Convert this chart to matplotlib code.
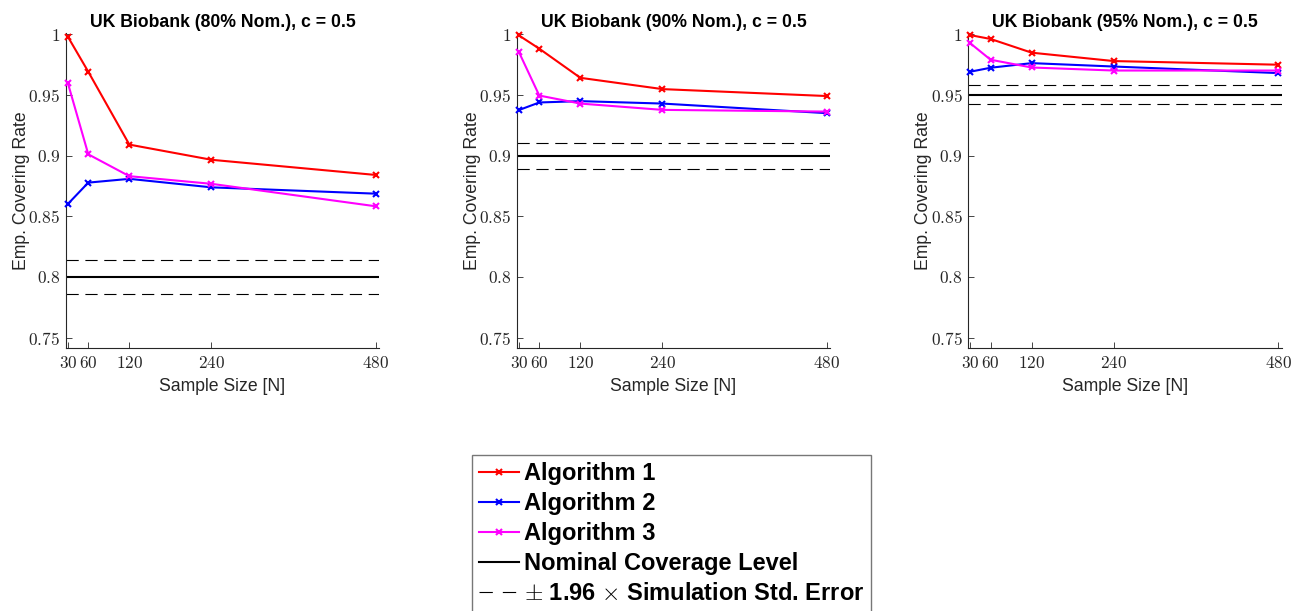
import matplotlib
matplotlib.use("Agg")
import matplotlib.pyplot as plt
from matplotlib.lines import Line2D

plt.rcParams['font.family'] = ['Liberation Sans', 'DejaVu Sans']
plt.rcParams['mathtext.fontset'] = 'cm'

sample_sizes = [30, 60, 120, 240, 480]
titles = ["UK Biobank (80% Nom.), c = 0.5",
          "UK Biobank (90% Nom.), c = 0.5",
          "UK Biobank (95% Nom.), c = 0.5"]
nominal = [0.80, 0.90, 0.95]
band = [0.0143, 0.0107, 0.0078]

alg1 = [[0.998, 0.969, 0.909, 0.8965, 0.884],
        [0.999, 0.988, 0.964, 0.9547, 0.949],
        [0.9992, 0.996, 0.9847, 0.9778, 0.9748]]
alg2 = [[0.860, 0.8777, 0.8808, 0.8738, 0.8686],
        [0.9374, 0.9437, 0.9448, 0.9428, 0.9349],
        [0.969, 0.9723, 0.9761, 0.9733, 0.9679]]
alg3 = [[0.960, 0.901, 0.883, 0.8767, 0.8582],
        [0.9855, 0.9494, 0.9428, 0.9376, 0.9362],
        [0.9926, 0.9789, 0.9725, 0.970, 0.970]]

series_labels = ["Algorithm 1", "Algorithm 2", "Algorithm 3"]
series_colors = ["#ff0000", "#0000ff", "#ff00ff"]
yticks = [0.75, 0.8, 0.85, 0.9, 0.95, 1.0]

W, H = 1301, 611
fig = plt.figure(figsize=(W / 100, H / 100), dpi=100)

lefts = [65.7, 516.7, 968.0]
ax_w = 313.5
top_px, bot_px = 33.5, 348.0

for i in range(3):
    ax = fig.add_axes([lefts[i] / W, (H - bot_px) / H, ax_w / W, (bot_px - top_px) / H])
    xl = (27, 485)
    ax.set_xlim(*xl)
    ax.set_ylim(0.7415, 1.0005)
    ax.hlines(nominal[i], xl[0], xl[1], colors='black', lw=1.5)
    for s in (+1, -1):
        ax.hlines(nominal[i] + s * band[i], xl[0], xl[1], colors='black', lw=0.8,
                  linestyles=(0, (11, 6)))
    for data, c in zip([alg1, alg2, alg3], series_colors):
        ax.plot(sample_sizes, data[i], color=c, lw=1.5, marker='x', ms=5, mew=1.5,
                clip_on=False, zorder=3)
    for sp in ('top', 'right'):
        ax.spines[sp].set_visible(False)
    for sp in ('left', 'bottom'):
        ax.spines[sp].set_linewidth(0.8)
        ax.spines[sp].set_color('#262626')
    ax.set_xticks(sample_sizes)
    ax.set_xticklabels([f"${v}$" for v in sample_sizes], fontsize=12.3)
    ax.set_yticks(yticks)
    ax.set_yticklabels([f"${v:g}$" for v in yticks], fontsize=12.5)
    ax.tick_params(direction='in', length=4, width=0.6, colors='#262626', pad=4)
    ax.tick_params(axis='x', pad=5)
    ax.set_title(titles[i], fontsize=12.7, fontweight='bold', pad=5)
    ax.set_xlabel("Sample Size [N]", fontsize=12.7, color='#262626', labelpad=5)
    ax.set_ylabel("Emp. Covering Rate", fontsize=12.7, color='#262626', labelpad=-1)

handles = [Line2D([], [], color=c, lw=1.5, marker='x', ms=4, mew=1.5) for c in series_colors]
handles.append(Line2D([], [], color='black', lw=1.5))
handles.append(Line2D([], [], color='black', lw=0.8, linestyle=(0, (12, 9))))
labels = series_labels + ["Nominal Coverage Level", r"$\pm$ 1.96 $\times$ Simulation Std. Error"]

leg = fig.legend(handles, labels, loc='upper left',
                 bbox_to_anchor=(472 / W, 1 - 455 / H), borderaxespad=0,
                 prop={'weight': 'bold', 'size': 17}, frameon=True, fancybox=False,
                 handlelength=1.7, handletextpad=0.2, labelspacing=0.3,
                 borderpad=0.3)
leg.get_frame().set_edgecolor('#555555')
leg.get_frame().set_linewidth(1.0)

fig.savefig("out.png", dpi=100)
